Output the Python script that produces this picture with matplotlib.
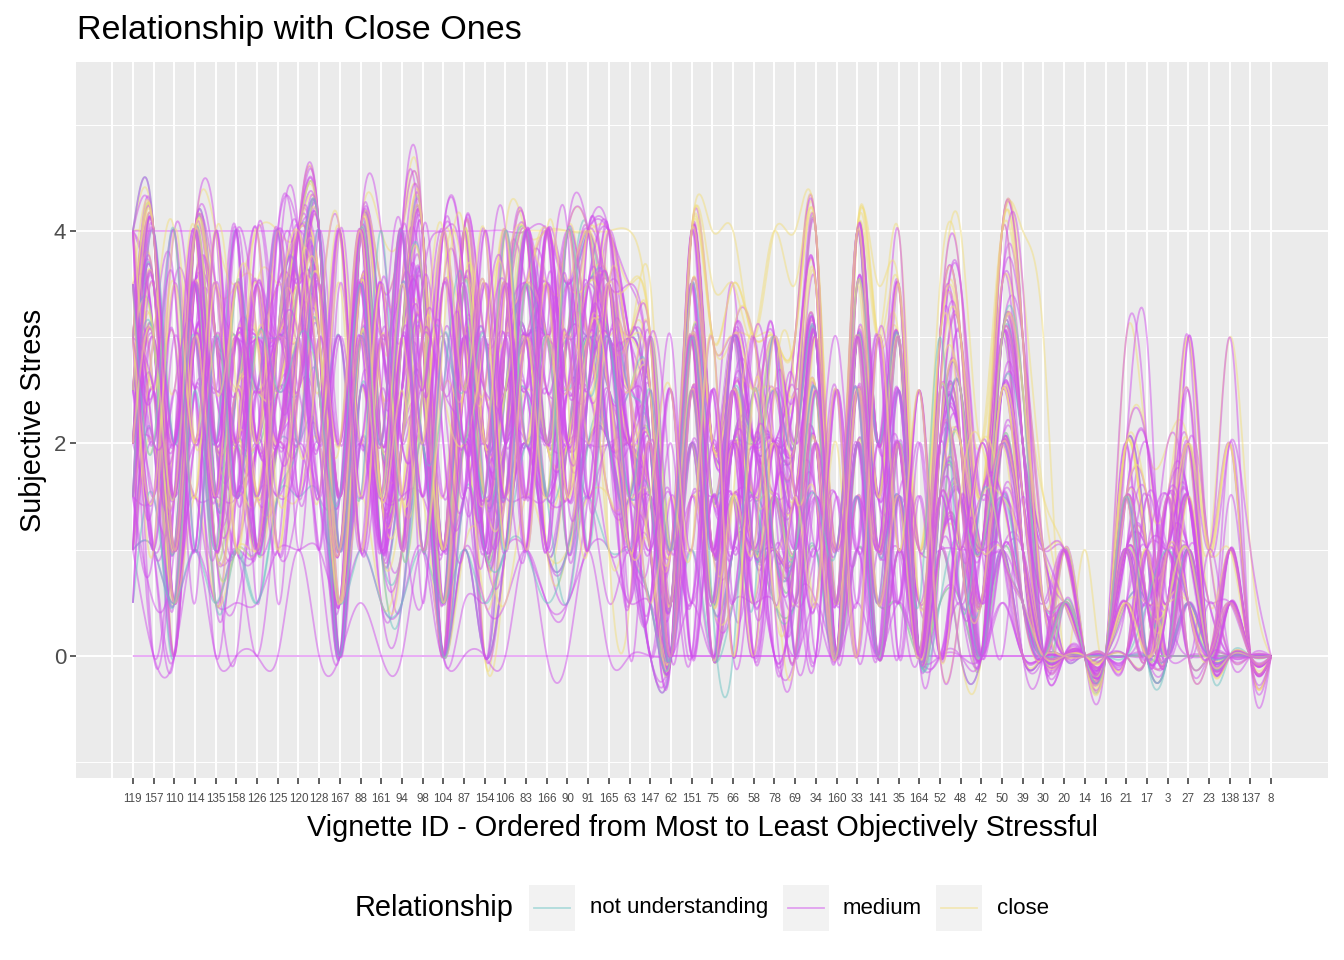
import numpy as np
import matplotlib
matplotlib.use("Agg")
import matplotlib.pyplot as plt
from matplotlib.patches import Rectangle
from matplotlib.lines import Line2D

plt.rcParams['font.family'] = ['Liberation Sans', 'DejaVu Sans']

# ---------------- data ----------------
vignette_ids = [119, 157, 110, 114, 135, 158, 126, 125, 120, 128,
                167, 88, 161, 94, 98, 104, 87, 154, 106, 83,
                166, 90, 91, 165, 63, 147, 62, 151, 75, 66,
                58, 78, 69, 34, 160, 33, 141, 35, 164, 52,
                48, 42, 50, 39, 30, 20, 14, 16, 21, 17,
                3, 27, 23, 138, 137, 8]

# one string per participant; one digit per vignette (x order above),
# subjective stress in half points: digit 0..8  ->  0.0 .. 4.0
medium_ratings = [
    "67384256 78284471 63556467 44161434 46142504 51430000 22120200",
    "48163635 68063581 52736356 35052524 35031303 40520000 03100000",
    "57262474 86172660 74458367 52070534 24250412 32620100 40310000",
    "35471354 57375352 45365557 43141323 53052602 60431000 10020100",
    "88888888 88888888 88888788 63064445 48062604 42662000 40240200",
    "00000000 00000000 00000000 00000000 00000000 00000000 00000000",
    "76283567 88386582 86648578 63272646 46063705 73540200 33130200",
    "24052133 46053140 30242135 21040213 12030201 10200000 01000000",
    "62476248 77185470 64357467 46164725 36182406 51761000 21431000",
    "88487667 87287881 85678788 75184664 57074606 62860000 44242400",
    "36261436 53163252 43452453 33050422 25030402 30320100 02010000",
    "68175564 86284782 82776676 54086643 46082704 42642000 42020200",
    "24231203 42041240 20242242 20020220 02020200 00200000 00000000",
    "57276454 76174550 52454574 34164444 36052424 30541200 20330000",
    "86254346 68082662 64364866 42062422 24062402 40620000 00200000",
    "48487466 88288682 82686868 64084644 68084606 62860200 64062420",
    "52064224 56052460 40462464 42042242 24040202 20420000 00000000",
    "80385446 86184680 62486684 64062444 48062604 40642000 20020000",
    "44344424 34242442 43443444 42042422 24042202 20420000 00000000",
    "68265644 68264660 64464664 42082642 46062406 40640200 24240200",
    "20020000 20010020 00020020 00000000 00000000 00000000 00000000",
    "86286864 88286682 82684886 64084644 46084804 62842200 22042000",
    "26063246 66062462 42264464 22062422 04062402 20640000 02220000",
    "68488464 86086680 60684686 44084424 46082604 42642200 42040200",
    "42042224 46042440 20242244 20040222 24040202 00200000 00020000",
    "88286666 88284880 84686886 64084644 68064604 62860000 46062600",
    "66064426 86264660 62464666 42062442 24062404 40620200 20220000",
    "48286448 68084682 62486864 44084624 46084604 42640000 22020000",
    "53372534 65263451 54344453 34153332 23142312 31420000 11010000",
    "37153627 73372542 63553574 53261543 35053503 52520100 21230000",
    "74166354 88166761 72667678 56172554 57063705 63751100 32140100",
    "15142042 34041140 11221131 20031130 11021100 10100000 00000000",
    "46473565 67374573 54566566 45174535 44163414 42531000 31321100",
    "60352536 76052571 73377457 62052544 36163313 51531000 00130000",
    "33433343 43343332 34333434 33233323 23232322 22220000 01010000",
    "58264745 78275682 75566688 66183656 58074705 73762100 34250300",
    "22121112 22121120 21121122 11010111 01010100 00100000 00000000",
    "47373584 67473572 64567567 55163536 45153524 41631200 21330000",
    "65183347 76183561 54473556 43163334 36063403 62530000 10010000",
    "38174648 85274481 74658785 53174456 47183706 51742100 23150200",
    "72483476 88173773 62576476 65172645 46174403 52651000 30230100",
    "46362544 65273460 53454565 43152443 34052403 31530100 22120000",
    "84376286 86382871 86767687 75183654 57084606 72770100 34260400",
    "31250323 54052240 32343344 21041232 13040302 20410000 00010000",
    "57174465 78286571 64676576 45072545 46073504 52641100 21230100",
    "72536471 65374827 46385637 24051413 26130502 10310000 31020000",
    "36728354 72846315 63728464 13262304 02623050 30210000 02130000",
    "84617362 57283648 72645386 32051623 31502130 22030000 20310100",
    "25374816 38462738 52836475 21503142 16020502 14200000 13021000",
    "63852746 84637284 37562847 50214230 26030320 20310100 20130000",
    "47263858 26384752 64738256 32603152 33051304 31220000 31020100",
    "58372645 73826458 46827365 16242305 30526203 12320000 02310000",
    "16384725 47362817 38472635 24031502 12326030 20210200 10201000",
    "75846372 68473826 57384627 25260313 52304150 31420100 30220000",
    "32746583 84627364 26374856 50313260 23052303 13310000 01302000",
    "68472536 57382648 73846257 34052326 25150304 42210100 21030100",
    "45263748 36472856 48263758 16032403 30526040 21300200 10300000",
    "83765428 74836275 65427386 42515042 26240304 31420000 31020200",
    "27384652 63827456 37462835 51403261 04262403 20420100 00210000",
    "56473827 48263758 56382746 23062403 25041305 23310000 20130100",
    "74628375 82736465 43827566 42305136 04152603 32420200 12020000",
    "38264756 57482637 62738457 23160413 31504150 13200000 30210000",
    "65483726 74625838 35746827 04261503 20516302 31420100 10320000",
    "47382658 36847265 74628358 31504264 13250403 24210000 21030100",
    "82647385 68374826 47385627 24260513 50316240 30310100 02210200",
    "53826474 75263847 56284736 42315036 03162405 21420000 30120000",
    "36475828 47382658 63728475 16052430 26041503 32200100 10300100",
    "74563827 83647265 38465728 24051623 15260304 12420000 21020000",
    "28374656 64825378 72638456 31526041 32506150 31320000 03210100",
    "65728374 57364827 46738265 26305243 05162403 24210200 20130000",
]

close_ratings = [
    "87487776 88387881 85788888 76186766 68086626 62863200 44262400",
    "68276544 66275662 63474686 65084644 46064604 40640000 20020000",
    "48084624 68084460 60482466 42062422 26042402 20620000 00200000",
    "88388788 88388882 84888888 86288868 88286826 84886020 64442620",
    "46374424 56163450 43463465 43052423 24042402 20420000 00000000",
    "68286646 88286682 82686668 66086644 48084604 62842200 42240200",
    "26062224 46062260 40262244 22040222 04040202 00420000 00000000",
    "66284446 68284660 62484686 44064442 46062404 40640200 22020000",
    "84486466 86284680 82684866 64084664 68086606 62860200 42242000",
    "48264424 66064462 62464664 42062442 26062402 40420000 02020200",
    "68286664 88286880 84686886 66286666 68284626 64862000 42262400",
    "57373564 77275663 75567677 55174555 57073615 53650100 32130100",
    "35261433 55152351 41354353 32041322 24031302 21420000 10010000",
    "78386667 87387772 76678777 67287768 78287727 73873100 43352400",
    "46172436 67163452 54464466 43162434 35061403 31520000 11110000",
    "67273556 76275561 63576567 56174546 46172604 52641100 31130100",
    "24131223 34131230 22132233 21031121 12021101 10210000 00000000",
    "85386477 88286782 84787787 76286766 68186726 63861200 42242200",
    "56272535 66173461 53565456 44163533 35052403 42530000 21020000",
    "68383656 78384682 74678687 65184656 57183715 63752100 33141200",
    "37162336 57163352 53364465 32063433 24062402 31520000 10110000",
    "66274555 77274671 64576576 55174545 47073604 52651000 21120100",
    "64738265 75826347 65847362 34261523 26250304 31420100 21030000",
    "47582736 63847258 47263857 53260314 16152403 24310000 00210200",
    "85637482 76483625 58374628 24052361 25041306 41420200 31020000",
    "36847265 84726358 63847265 33261305 51406250 13320000 10300100",
    "72846573 57364827 75846382 16251523 25260403 32410100 20120000",
    "58263748 46837265 46738527 51326052 05162403 42200000 02030000",
    "63748526 85263748 57263847 24051326 33051305 21420100 30210100",
    "46385762 67483526 84726365 23526051 31506250 34210000 10120000",
]

not_understanding_ratings = [
    "46264424 66063460 40462464 42062422 26042402 20620000 00200000",
    "68286446 86084682 62484684 64064444 48084604 40642000 20020000",
    "24062224 44042240 20242244 20040222 24040202 00200000 00000000",
    "88286646 88286680 82686686 64084644 46082604 42640200 42040000",
    "48284424 68062462 62464666 42062442 26060402 40420000 20020000",
    "35172435 56163451 43453464 34062433 25051402 31420000 11010000",
    "57273555 76274572 64566565 55163546 46063604 52541100 21130000",
    "22121213 33121121 21221232 21020121 12021101 10210000 00000000",
    "66283566 78284671 73576677 54173545 46174603 52650100 31120100",
    "13151213 45052140 32243144 21041231 12030301 20310000 00010000",
    "56374826 74638256 56384726 26251316 05162305 21310100 20120000",
    "38462758 48263745 73846256 33051623 25041503 32420000 01210000",
    "74826365 65374826 46273856 35261052 23250316 13210100 30020000",
]

group_labels = ["not understanding", "medium", "close"]
group_colors = {"not understanding": "#6CC4C4", "medium": "#D050EC", "close": "#F2DE7C"}
group_alpha = {"not understanding": 0.5, "medium": 0.5, "close": 0.5}
group_data = {"not understanding": not_understanding_ratings,
              "medium": medium_ratings, "close": close_ratings}


def parse(s):
    v = [int(c) for c in s if c.isdigit()]
    assert len(v) == len(vignette_ids), (s, len(v))
    return np.array(v, dtype=float) / 2.0


def natural_spline(y, per=24):
    n = len(y)
    A = np.zeros((n - 2, n - 2))
    rhs = np.zeros(n - 2)
    for i in range(1, n - 1):
        A[i - 1, i - 1] = 4.0
        if i - 2 >= 0:
            A[i - 1, i - 2] = 1.0
        if i < n - 2:
            A[i - 1, i] = 1.0
        rhs[i - 1] = 6.0 * (y[i - 1] - 2 * y[i] + y[i + 1])
    M = np.zeros(n)
    M[1:-1] = np.linalg.solve(A, rhs)
    xs, ys = [], []
    t = np.linspace(0, 1, per, endpoint=False)
    for i in range(n - 1):
        s = (1 - t) * y[i] + t * y[i + 1] + ((1 - t) ** 3 - (1 - t)) * M[i] / 6 + (t ** 3 - t) * M[i + 1] / 6
        xs.append(i + 1 + t)
        ys.append(s)
    xs.append(np.array([n]))
    ys.append(np.array([y[-1]]))
    return np.concatenate(xs), np.concatenate(ys)


# interleave participants of the three groups (draw order)
series = []
used = {g: 0 for g in group_labels}
total = sum(len(group_data[g]) for g in group_labels)
for _ in range(total):
    cands = [g for g in group_labels if used[g] < len(group_data[g])]
    g = min(cands, key=lambda gg: (used[gg] + 0.5) / len(group_data[gg]))
    series.append((g, group_data[g][used[g]]))
    used[g] += 1

# ---------------- figure ----------------
W, H = 1344, 960
fig = plt.figure(figsize=(W / 100, H / 100), dpi=100)
L, R, T, B = 76, 1328, 62, 778
ax = fig.add_axes([L / W, 1 - B / H, (R - L) / W, (B - T) / H])
ax.set_facecolor("#EBEBEB")
for sp in ax.spines.values():
    sp.set_visible(False)

n = len(vignette_ids)
ax.set_xlim(1 - 0.05 * (n - 1), n + 0.05 * (n - 1))
ax.set_ylim(-1.148, 5.59)

# grid
for yv in [-1, 1, 3, 5]:
    ax.axhline(yv, color="white", lw=0.7, zorder=0)
for yv in [0, 2, 4]:
    ax.axhline(yv, color="white", lw=1.4, zorder=0)
for xv in range(0, n + 1):
    ax.axvline(xv, color="white", lw=1.4, zorder=0)

for grp, s in series:
    xs, ys = natural_spline(parse(s))
    ax.plot(xs, ys, color=group_colors[grp], alpha=group_alpha[grp], lw=1.3, zorder=2,
            solid_capstyle="butt")

ax.set_xticks(range(1, n + 1))
ax.set_xticklabels([str(v) for v in vignette_ids], fontsize=8.4, color="#4D4D4D")
ax.set_yticks([0, 2, 4])
ax.set_yticklabels(["0", "2", "4"], fontsize=16, color="#4D4D4D")
ax.tick_params(axis="both", length=4, width=1.1, color="#333333")
ax.tick_params(axis="x", pad=7)
ax.tick_params(axis="y", pad=3)

ax.set_xlabel("Vignette ID - Ordered from Most to Least Objectively Stressful", fontsize=20.8,
              color="black", labelpad=6)
ax.set_ylabel("Subjective Stress", fontsize=20.8, color="black", labelpad=5)

fig.text(77 / W, 1 - 30 / H, "Relationship with Close Ones", fontsize=24.5, ha="left", va="center",
         color="black")

# legend (bottom)
cy = 908
fig.text(355 / W, 1 - cy / H, "Relationship", fontsize=20.8, ha="left", va="center")
keys = [(529, 590), (783, 843), (936, 997)]
for (kx, tx), grp in zip(keys, group_labels):
    fig.patches.append(Rectangle((kx / W, 1 - (cy + 23) / H), 46 / W, 46 / H,
                                 transform=fig.transFigure, facecolor="#F2F2F2",
                                 edgecolor="none"))
    fig.lines.append(Line2D([(kx + 5) / W, (kx + 41) / W], [1 - cy / H, 1 - cy / H],
                            transform=fig.transFigure, color=group_colors[grp],
                            alpha=group_alpha[grp], lw=1.3))
    fig.text(tx / W, 1 - cy / H, grp, fontsize=16, ha="left", va="center")

fig.savefig("out.png", dpi=100)
